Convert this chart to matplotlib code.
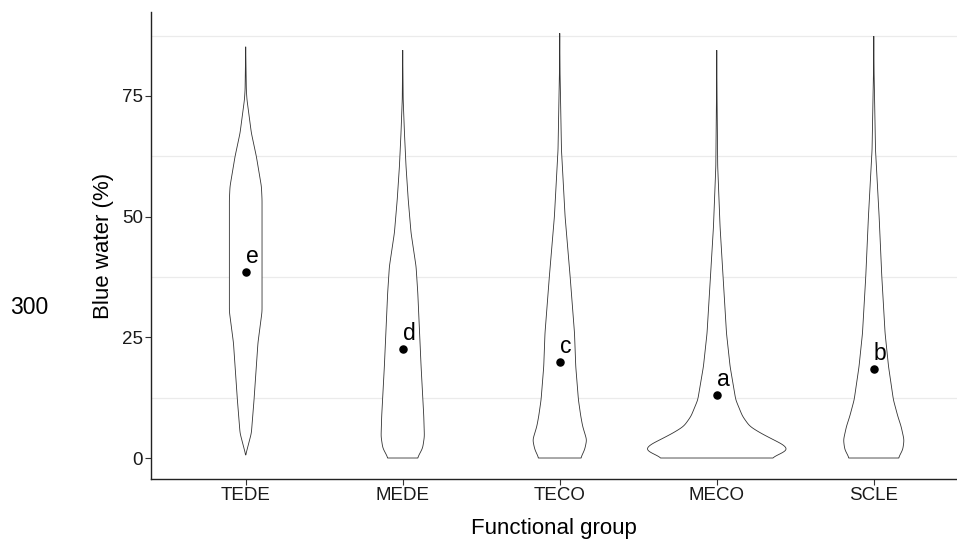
import matplotlib

matplotlib.use("Agg")
import matplotlib.pyplot as plt
import numpy as np

plt.rcParams["font.family"] = ["Liberation Sans", "DejaVu Sans"]

GROUPS = ["TEDE", "MEDE", "TECO", "MECO", "SCLE"]
MEANS = [38.5, 22.6, 19.9, 13.1, 18.4]
LETTERS = ["e", "d", "c", "a", "b"]

# violin outlines: value levels and half-widths (category units)
TEDE_Y = [0.6, 5.1, 12.0, 23.8, 30.3, 53.5, 56.2, 62.4, 67.3, 74.2, 76.2, 85.2]
TEDE_W = [0.0, 0.036, 0.053, 0.078, 0.104, 0.104, 0.100, 0.068, 0.036, 0.008, 0.004, 0.0]
MEDE_Y = [0.0, 2.0, 4.4, 8.6, 18.9, 34.1, 39.6, 46.6, 53.5, 60.4, 67.3, 74.2, 84.5]
MEDE_W = [0.094, 0.127, 0.138, 0.134, 0.117, 0.096, 0.085, 0.053, 0.035, 0.021, 0.011, 0.003, 0.0]
TECO_Y = [0.0, 1.7, 3.7, 6.5, 8.6, 12.0, 18.9, 25.8, 37.6, 50.0, 63.8, 79.7, 88.0]
TECO_W = [0.134, 0.159, 0.172, 0.146, 0.134, 0.119, 0.102, 0.094, 0.066, 0.034, 0.011, 0.002, 0.0]
MECO_Y = [0.0, 1.0, 1.7, 2.7, 3.7, 5.1, 6.5, 8.6, 12.0, 18.9, 25.8, 37.6, 47.9, 60.4, 74.2, 84.5]
MECO_W = [0.347, 0.418, 0.455, 0.425, 0.363, 0.280, 0.210, 0.164, 0.121, 0.085, 0.062, 0.040,
          0.021, 0.006, 0.002, 0.0]
SCLE_Y = [0.0, 1.7, 3.7, 6.5, 8.6, 12.0, 18.9, 25.8, 37.6, 50.0, 63.8, 79.7, 87.4]
SCLE_W = [0.157, 0.185, 0.193, 0.174, 0.153, 0.125, 0.094, 0.072, 0.051, 0.034, 0.011, 0.002, 0.0]

PROFILES = [(TEDE_Y, TEDE_W), (MEDE_Y, MEDE_W), (TECO_Y, TECO_W),
            (MECO_Y, MECO_W), (SCLE_Y, SCLE_W)]


def outline(ys, ws, step=0.1, sigma=0.45):
    # resample the outline finely and soften the corners a little
    fy = np.arange(ys[0], ys[-1] + step / 2, step)
    fw = np.interp(fy, ys, ws)
    k = np.arange(-3 * sigma, 3 * sigma + step, step)
    kern = np.exp(-0.5 * (k / sigma) ** 2)
    kern /= kern.sum()
    pad = len(k) // 2
    padded = np.pad(fw, pad, mode="edge")
    sw = np.convolve(padded, kern, mode="same")[pad:-pad]
    sw[-1] = 0.0
    if ws[0] == 0:
        sw[0] = 0.0
    return fy, sw


fig = plt.figure(figsize=(9.57, 5.41), dpi=100)
fig.patch.set_facecolor("white")
ax = fig.add_axes([0.1583, 0.1146, 0.8417, 0.8632])

for val in [12.5, 37.5, 62.5, 87.5]:
    ax.axhline(val, color="#ebebeb", lw=0.9, zorder=0)

x = np.arange(1, len(GROUPS) + 1)
for xi, (ys, ws) in zip(x, PROFILES):
    sy, sw = outline(ys, ws)
    px = np.concatenate([xi - sw, (xi + sw)[::-1]])
    py = np.concatenate([sy, sy[::-1]])
    ax.fill(px, py, facecolor="white", edgecolor="#333333", lw=0.6, zorder=2)

ax.scatter(x, MEANS, s=26, color="black", zorder=3)
for xi, m, lab in zip(x, MEANS, LETTERS):
    ax.annotate(lab, xy=(xi, m), xytext=(0, 6.5), textcoords="offset points",
                ha="left", va="baseline", fontsize=16.5, color="black", zorder=4)

ax.set_xlim(0.4, 5.53)
ax.set_ylim(-4.35, 92.4)
ax.set_xticks(x)
ax.set_xticklabels(GROUPS)
ax.set_yticks([0, 25, 50, 75])
ax.tick_params(axis="both", length=4, width=0.8, color="#333333", labelsize=13.5,
               labelcolor="#1a1a1a", pad=2)
ax.spines["top"].set_visible(False)
ax.spines["right"].set_visible(False)
for s in ["left", "bottom"]:
    ax.spines[s].set_color("#222222")
    ax.spines[s].set_linewidth(1.0)

ax.set_xlabel("Functional group", fontsize=16, labelpad=10)
ax.set_ylabel("Blue water (%)", fontsize=16, labelpad=6)

fig.text(10 / 957, 1 - 307 / 541, "300", fontsize=16.5, ha="left", va="center")

fig.savefig("out.png", dpi=100)
plt.close(fig)
